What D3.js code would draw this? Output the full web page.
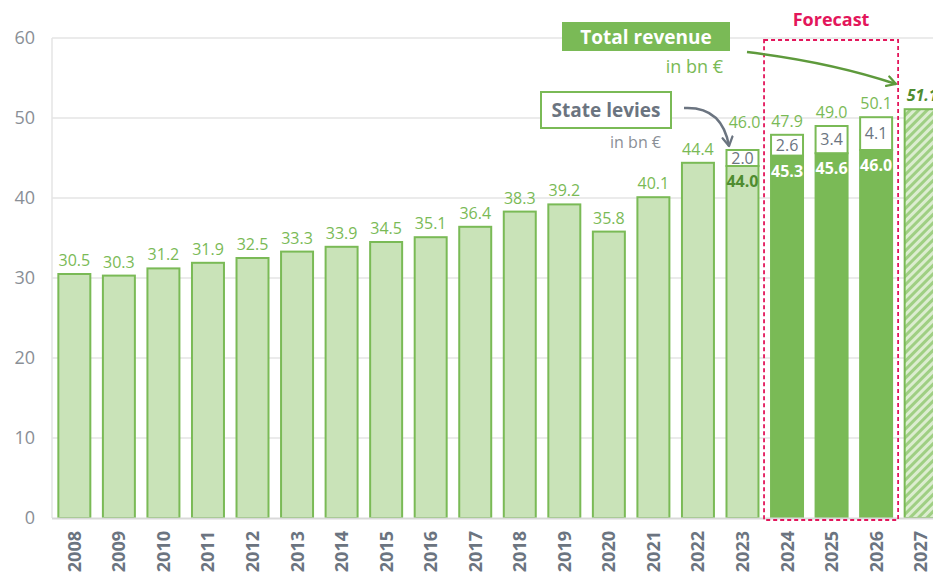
<!DOCTYPE html>
<html>
<head>
<meta charset="utf-8">
<script src="https://cdn.jsdelivr.net/npm/d3@7"></script>
<style>
  html, body { margin: 0; padding: 0; background: #fff; }
  svg { display: block; font-family: "Open Sans", "Noto Sans", sans-serif; }
</style>
</head>
<body>
<svg id="chart" width="933" height="577"></svg>
<script>
// ---- data ----
const years = ["2008","2009","2010","2011","2012","2013","2014","2015","2016","2017","2018","2019","2020","2021","2022","2023","2024","2025","2026","2027"];
// base revenue (excluding state levies where shown separately)
const baseValues = [30.5,30.3,31.2,31.9,32.5,33.3,33.9,34.5,35.1,36.4,38.3,39.2,35.8,40.1,44.4,44.0,45.3,45.6,46.0,51.1];
// state levies (0 = not shown)
const levyValues = [0,0,0,0,0,0,0,0,0,0,0,0,0,0,0,2.0,2.6,3.4,4.1,0];
// total labels
const totalLabels = ["30.5","30.3","31.2","31.9","32.5","33.3","33.9","34.5","35.1","36.4","38.3","39.2","35.8","40.1","44.4","46.0","47.9","49.0","50.1","51.1"];
const forecastYears = ["2024","2025","2026"];
const estimateYears = ["2027"];
const yTicks = [0,10,20,30,40,50,60];

// ---- colors ----
const lightGreen = "#c9e3b8", green = "#7aba56", darkGreen = "#4f8c30",
      gray = "#6b7480", tickGray = "#8a8f96", grid = "#e4e4e4", crimson = "#e3165b";

const svg = d3.select("#chart");
const x = d3.scaleBand().domain(years).range([52, 943]).paddingInner(0.237).paddingOuter(0.12);
const y = d3.scaleLinear().domain([0, 60]).range([518, 38]);

// hatch pattern
const defs = svg.append("defs");
const pat = defs.append("pattern").attr("id","hatch").attr("patternUnits","userSpaceOnUse")
  .attr("width",6).attr("height",6).attr("patternTransform","rotate(45)");
pat.append("rect").attr("width",6).attr("height",6).attr("fill","#dcedd0");
pat.append("rect").attr("width",3).attr("height",6).attr("fill","#9fcf83");

const marker = (id, color) => {
  defs.append("marker").attr("id", id).attr("viewBox","0 0 10 10").attr("refX",8).attr("refY",5)
    .attr("markerWidth",5).attr("markerHeight",5).attr("orient","auto")
    .append("path").attr("d","M1,1 L8,5 L1,9").attr("fill","none").attr("stroke",color).attr("stroke-width",1.8)
    .attr("stroke-linecap","round").attr("stroke-linejoin","round");
};
marker("arrG", "#5e9a3c");
marker("arrGray", "#6b7480");

// gridlines
svg.append("g").selectAll("line").data(yTicks.filter(d => d > 0)).join("line")
  .attr("x1", 52).attr("x2", 933).attr("y1", d => y(d)).attr("y2", d => y(d))
  .attr("stroke", grid).attr("stroke-width", 1.5);
// left axis line
svg.append("line").attr("x1",52).attr("x2",52).attr("y1",38).attr("y2",518).attr("stroke",grid).attr("stroke-width",1.5);

// y tick labels
svg.append("g").selectAll("text").data(yTicks).join("text")
  .attr("x", 35).attr("y", d => y(d)).attr("dy","0.36em").attr("text-anchor","end")
  .attr("fill", tickGray).attr("font-size", 18).text(d => d);

const fx0 = x(forecastYears[0]) - 6, fx1 = x(forecastYears[forecastYears.length-1]) + x.bandwidth() + 5;

const bw = x.bandwidth();
const bars = svg.append("g");
years.forEach((yr, i) => {
  const isF = forecastYears.includes(yr), isE = estimateYears.includes(yr);
  const base = baseValues[i], levy = levyValues[i];
  const fill = isE ? "url(#hatch)" : (isF ? green : lightGreen);
  bars.append("rect").attr("x", x(yr) + 1).attr("y", y(base)).attr("width", bw - 2).attr("height", y(0) - y(base))
    .attr("fill", fill).attr("stroke", green).attr("stroke-width", 2);
  if (levy > 0) {
    bars.append("rect").attr("x", x(yr) + 1).attr("y", y(base + levy)).attr("width", bw - 2).attr("height", y(base) - y(base + levy))
      .attr("fill", "#fff").attr("stroke", green).attr("stroke-width", 2);
    bars.append("text").attr("x", x(yr) + bw/2).attr("y", (y(base) + y(base + levy))/2).attr("dy","0.36em")
      .attr("text-anchor","middle").attr("fill", gray).attr("font-size", 16).text(levy.toFixed(1));
    bars.append("text").attr("x", x(yr) + bw/2).attr("y", y(base) + 21)
      .attr("text-anchor","middle").attr("fill", isF ? "#fff" : darkGreen).attr("font-weight", 700)
      .attr("font-size", 16).text(base.toFixed(1));
  }
  const top = y(base + levy);
  const lift = (levy > 0 && !isF) ? 14 : 0;
  const lbl = bars.append("text").attr("x", x(yr) + bw/2 + (yr === "2023" ? 2 : 0)).attr("y", top - 8 - lift)
    .attr("text-anchor","middle").attr("font-size", 16).text(totalLabels[i]);
  if (isE) lbl.attr("fill", darkGreen).attr("font-weight", 700).attr("font-style","italic").attr("text-anchor","start").attr("x", x(yr) + 3);
  else lbl.attr("fill", green);
});

// baseline
svg.append("line").attr("x1",52).attr("x2",933).attr("y1",518.5).attr("y2",518.5).attr("stroke","#d9d9d9").attr("stroke-width",2);

// forecast dashed box
svg.append("rect").attr("x", fx0).attr("y", 40).attr("width", fx1 - fx0).attr("height", 480)
  .attr("fill","none").attr("stroke", crimson).attr("stroke-width", 1.8).attr("stroke-dasharray","4,3");
svg.append("text").attr("x", (fx0 + fx1)/2).attr("y", 26).attr("text-anchor","middle")
  .attr("fill", crimson).attr("font-weight", 700).attr("font-size", 18).text("Forecast");

// x labels
svg.append("g").selectAll("text").data(years).join("text")
  .attr("transform", d => `translate(${x(d) + bw/2 + 6.5},531) rotate(-90)`)
  .attr("text-anchor","end").attr("fill", gray).attr("font-weight", 700).attr("font-size", 18).text(d => d);

// Total revenue annotation
svg.append("rect").attr("x",562).attr("y",22).attr("width",168).attr("height",29).attr("fill",green);
svg.append("text").attr("x",646).attr("y",37).attr("dy","0.36em").attr("text-anchor","middle")
  .attr("fill","#fff").attr("font-weight",700).attr("font-size",19).text("Total revenue");
svg.append("text").attr("x",723).attr("y",67).attr("dy","0.36em").attr("text-anchor","end")
  .attr("fill",green).attr("font-size",18).text("in bn €");
svg.append("path").attr("d","M747,52 Q830,62 896,84").attr("fill","none").attr("stroke","#5e9a3c")
  .attr("stroke-width",2.5).attr("marker-end","url(#arrG)");

// State levies annotation
svg.append("rect").attr("x",541).attr("y",92).attr("width",130).attr("height",36).attr("fill","#fff")
  .attr("stroke",green).attr("stroke-width",2);
svg.append("text").attr("x",606).attr("y",110).attr("dy","0.36em").attr("text-anchor","middle")
  .attr("fill",gray).attr("font-weight",700).attr("font-size",19).text("State levies");
svg.append("text").attr("x",661).attr("y",142).attr("dy","0.36em").attr("text-anchor","end")
  .attr("fill","#8a8f96").attr("font-size",16).text("in bn €");
svg.append("path").attr("d","M684,108 Q722,106 729,146").attr("fill","none").attr("stroke","#6b7480")
  .attr("stroke-width",2.5).attr("marker-end","url(#arrGray)");
</script>
</body>
</html>
